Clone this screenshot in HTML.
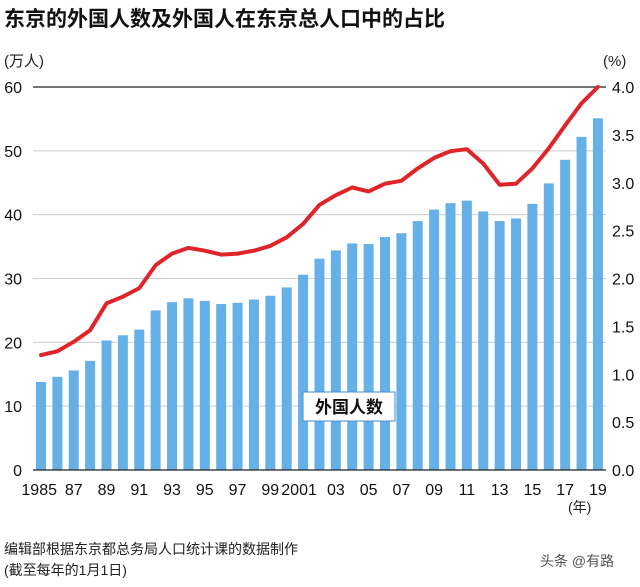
<!DOCTYPE html>
<html><head><meta charset="utf-8"><style>
body{margin:0;background:#fff;width:640px;height:582px;overflow:hidden;font-family:"Liberation Sans","Noto Sans CJK SC",sans-serif;}
</style></head><body>
<svg id="s" width="640" height="582" xmlns="http://www.w3.org/2000/svg" font-family="Liberation Sans, Noto Sans CJK SC, sans-serif">
<text x="4" y="26" font-size="21" font-weight="bold" fill="#111">东京的外国人数及外国人在东京总人口中的占比</text>
<text x="4" y="66" font-size="15" fill="#222">(万人)</text>
<text x="603" y="66" font-size="15" fill="#222">(%)</text>
<text x="568" y="512" font-size="14" fill="#222">(年)</text>
<text x="4" y="554" font-size="14" fill="#222">编辑部根据东京都总务局人口统计课的数据制作</text>
<text x="4" y="575" font-size="14" fill="#222">(截至每年的1月1日)</text>
<text x="540" y="566" font-size="14" fill="#555">头条 @有路</text>
</svg>
<script>
var s=document.getElementById('s'),ns='http://www.w3.org/2000/svg';
function el(t,a,txt){var e=document.createElementNS(ns,t);for(var k in a)e.setAttribute(k,a[k]);if(txt!==undefined)e.textContent=txt;s.appendChild(e);return e;}
var y0=470,u=6.383,pu=95.75;
for(var i=0;i<=6;i++){var y=y0-i*10*u;
 if(i>0&&i<6)el('line',{x1:33,x2:606,y1:y,y2:y,stroke:'#ccc','stroke-width':1});
 el('text',{x:22,y:y+6,'font-size':16,'text-anchor':'end',fill:'#111'},String(i*10));
}
for(var j=0;j<=8;j++){var v=j*0.5,y=y0-v*pu;
 el('text',{x:612,y:y+6,'font-size':16,fill:'#111'},v.toFixed(1));}
var bars=[13.8,14.6,15.6,17.1,20.3,21.1,22.0,25.0,26.3,26.9,26.5,26.0,26.2,26.7,27.3,28.6,30.6,33.1,34.4,35.5,35.4,36.5,37.1,39.0,40.8,41.8,42.2,40.5,39.0,39.4,41.7,44.9,48.6,52.2,55.1];
var pct=[1.20,1.24,1.34,1.46,1.74,1.81,1.90,2.14,2.26,2.32,2.29,2.25,2.26,2.29,2.34,2.43,2.57,2.77,2.87,2.95,2.91,2.99,3.02,3.15,3.26,3.33,3.35,3.20,2.98,2.99,3.15,3.36,3.60,3.83,4.0];
var pts=[];
bars.forEach(function(b,i){var cx=41+i*16.38;
 el('rect',{x:cx-5,y:y0-b*u,width:10,height:b*u,fill:'#66b0e8'});
 pts.push(cx.toFixed(1)+','+(y0-pct[i]*pu).toFixed(1));});
el('line',{x1:33,x2:606,y1:y0-60*u,y2:y0-60*u,stroke:'#222','stroke-width':1.3});
el('line',{x1:33,x2:606,y1:y0,y2:y0,stroke:'#222','stroke-width':1.3});
el('polyline',{points:pts.join(' '),fill:'none',stroke:'#e0252a','stroke-width':4,'stroke-linejoin':'round','stroke-linecap':'round'});
var labs={0:'1985',2:'87',4:'89',6:'91',8:'93',10:'95',12:'97',14:'99',16:'2001',18:'03',20:'05',22:'07',24:'09',26:'11',28:'13',30:'15',32:'17',34:'19'};
for(var k in labs){var cx=41+k*16.38,a='middle',x=cx;if(k==0){a='end';x=cx+16;} if(k==16){x=cx-4;}
 el('text',{x:x,y:495,'font-size':16,'text-anchor':a,fill:'#111'},labs[k]);}
el('rect',{x:303,y:392,width:92,height:29,fill:'#fff',stroke:'#4a8cc8','stroke-width':1});
el('text',{x:349,y:413,'font-size':17,'font-weight':'bold','text-anchor':'middle',fill:'#111'},'外国人数');
</script>
</body></html>
